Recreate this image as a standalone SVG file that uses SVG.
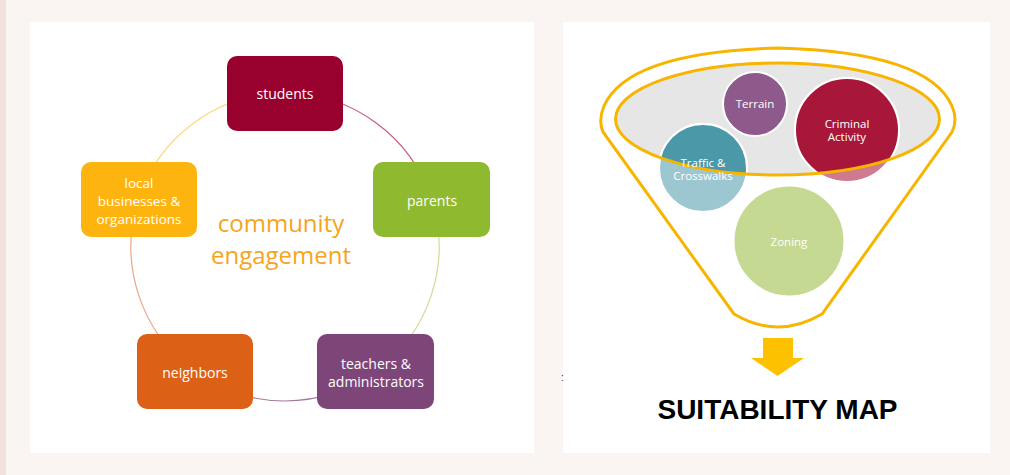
<svg xmlns="http://www.w3.org/2000/svg" width="1010" height="475" viewBox="0 0 1010 475">
  <style>
    .box { stroke: none; }
    .lbl { font-family: "Open Sans", "Noto Sans", sans-serif; fill: #ffffff; text-anchor: middle; }
    .nl { font-size: 14px; }
    .cl { font-size: 11.5px; }
    .arc { fill: none; stroke-width: 1.2; }
    .circ { stroke: #ffffff; stroke-width: 2; }
    .funnel { fill: none; stroke: #F7B500; stroke-width: 3; }
    .big { font-family: "Open Sans", "Noto Sans", sans-serif; font-size: 24px; fill: #F6A41C; text-anchor: middle; }
  </style>
  <defs>
    <clipPath id="inner">
      <ellipse cx="777.5" cy="119" rx="162" ry="56"/>
    </clipPath>
  </defs>

  <!-- background -->
  <rect x="0" y="0" width="1010" height="475" fill="#FAF5F3"/>
  <rect x="0" y="0" width="6" height="475" fill="#F1E2DE"/>
  <rect x="30" y="22" width="504" height="431" fill="#ffffff"/>
  <rect x="563" y="22" width="427" height="431" fill="#ffffff"/>

  <!-- left: connectors -->
  <g id="connectors">
    <path class="arc" stroke="#C65A80" d="M285,93 A154,154 0 0 1 431.5,199.4"/>
    <path class="arc" stroke="#C9DE95" d="M431.5,199.4 A154,154 0 0 1 375.5,371.6"/>
    <path class="arc" stroke="#A07A9C" d="M375.5,371.6 A154,154 0 0 1 194.5,371.6"/>
    <path class="arc" stroke="#EAA888" d="M194.5,371.6 A154,154 0 0 1 138.5,199.4"/>
    <path class="arc" stroke="#FDD67E" d="M138.5,199.4 A154,154 0 0 1 285,93"/>
  </g>

  <g id="node-students">
    <rect class="box" x="227" y="56" width="116" height="75" rx="10" fill="#98002E"/>
    <text class="lbl nl" x="285" y="99">students</text>
  </g>
  <g id="node-parents">
    <rect class="box" x="373" y="162" width="117" height="75" rx="10" fill="#8FB92E"/>
    <text class="lbl nl" x="432" y="206">parents</text>
  </g>
  <g id="node-teachers">
    <rect class="box" x="317" y="334" width="117" height="75" rx="10" fill="#7E4579"/>
    <text class="lbl nl" x="376" y="369">teachers &amp;</text>
    <text class="lbl nl" x="376" y="387">administrators</text>
  </g>
  <g id="node-neighbors">
    <rect class="box" x="137" y="334" width="116" height="75" rx="10" fill="#DC6016"/>
    <text class="lbl nl" x="195" y="378">neighbors</text>
  </g>
  <g id="node-local">
    <rect class="box" x="81" y="162" width="116" height="75" rx="10" fill="#FDB40F"/>
    <text class="lbl" font-size="13.5" x="139" y="188">local</text>
    <text class="lbl" font-size="13.5" x="139" y="206">businesses &amp;</text>
    <text class="lbl" font-size="13.5" x="139" y="224">organizations</text>
  </g>
  <g id="center-label">
    <text class="big" x="281" y="232">community</text>
    <text class="big" x="281" y="264">engagement</text>
  </g>

  <!-- right: funnel -->
  <g id="funnel-bg">
    <ellipse cx="777.5" cy="119" rx="162" ry="56" fill="#E6E6E6"/>
  </g>
  <g id="circles-faded">
    <circle class="circ" cx="755" cy="104" r="32" fill="#8E5A8C"/>
    <circle class="circ" cx="847" cy="130" r="52" fill="#CF7A90"/>
    <circle class="circ" cx="703" cy="168" r="44" fill="#9CC7D0"/>
    <circle class="circ" cx="789" cy="241" r="55.5" fill="#C5D992"/>
  </g>
  <g id="circles-inner" clip-path="url(#inner)">
    <circle class="circ" cx="847" cy="130" r="52" fill="#A8173A"/>
    <circle class="circ" cx="703" cy="168" r="44" fill="#4A98A8"/>
  </g>
  <g id="funnel-outline">
    <ellipse class="funnel" cx="777.5" cy="119" rx="162" ry="56"/>
    <path class="funnel" d="M603,132 Q598,120 604,106 Q628,52 778,48 Q928,52 952,106 Q958,120 952,132 L822,314 Q778,340 734,314 Z"/>
  </g>
  <g id="node-terrain"><text class="lbl cl" x="755" y="108">Terrain</text></g>
  <g id="node-criminal">
    <text class="lbl cl" x="847" y="128">Criminal</text>
    <text class="lbl cl" x="847" y="141">Activity</text>
  </g>
  <g id="node-traffic">
    <text class="lbl cl" x="703" y="167">Traffic &amp;</text>
    <text class="lbl cl" x="703" y="180">Crosswalks</text>
  </g>
  <g id="node-zoning"><text class="lbl cl" x="789" y="246">Zoning</text></g>

  <g id="arrow">
    <path d="M763,338 H793 V358 H804 L777.5,376 L751,358 H763 Z" fill="#FDC100"/>
  </g>
  <g id="title">
    <text x="777.5" y="419" font-family="Liberation Sans, Arial, sans-serif" font-weight="bold" font-size="28" fill="#000000" text-anchor="middle">SUITABILITY MAP</text>
  </g>
  <text x="561" y="381" font-family="Liberation Sans, sans-serif" font-size="10" fill="#333333">:</text>
</svg>
